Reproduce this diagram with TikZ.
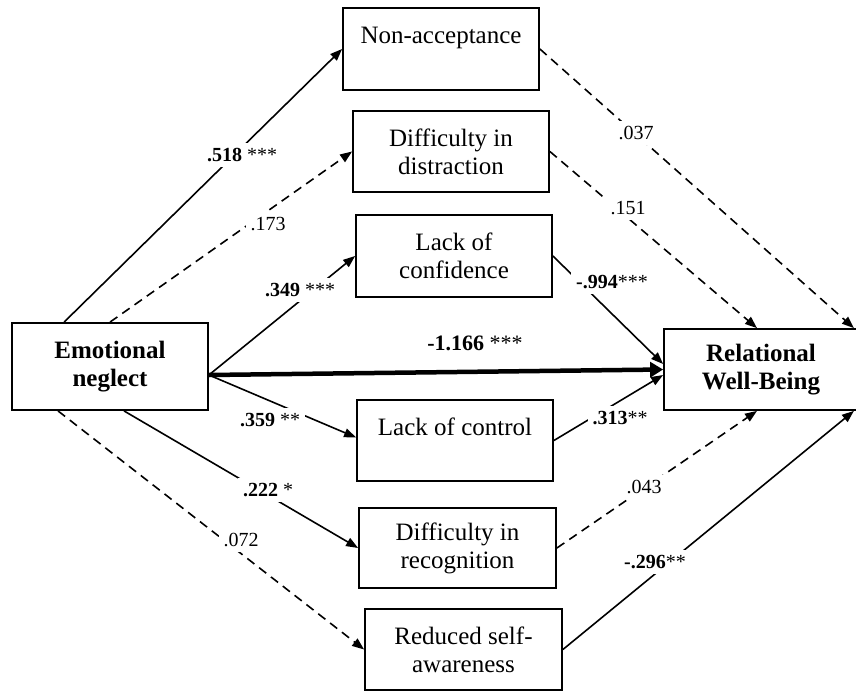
\documentclass[tikz,border=0pt]{standalone}
\usepackage{fontspec}
\setmainfont{Liberation Serif}
\usetikzlibrary{arrows.meta}
\begin{document}
\begin{tikzpicture}[x=1pt,y=-1pt,
  box/.style={draw, line width=1.8pt, minimum width=196pt, minimum height=81pt,
    align=center, inner sep=0pt, font=\fontsize{25}{28}\selectfont},
  bbox/.style={box, font=\fontsize{25}{28}\selectfont\bfseries},
  path/.style={line width=1.6pt, -{Triangle[length=12pt,width=9pt]}},
  npath/.style={path, dash pattern=on 9pt off 6pt},
  total/.style={line width=4.5pt, -{Triangle[length=13pt,width=15pt]}},
  lab/.style={fill=white, inner sep=5pt, font=\fontsize{20}{22}\selectfont},
  plain/.style={inner sep=1pt, font=\fontsize{22}{24}\selectfont}]
\useasboundingbox (0,0) rectangle (856,693);
\clip (0,0) rectangle (856,693);

% predictor and outcome
\node[bbox, minimum height=87pt] (EN) at (110,366.5) {Emotional\\neglect};
\node[bbox, minimum width=194pt] (RWB) at (761,369.5) {Relational\\Well-Being};

% mediators
\node[box, minimum height=82pt] (NA) at (441,49) {Non-acceptance\\\mbox{}};
\node[box] (DD) at (451,151.5) {Difficulty in\\distraction};
\node[box, minimum height=82pt] (LC) at (454,256) {Lack of\\confidence};
\node[box] (CT) at (455,440.5) {Lack of control\\\mbox{}};
\node[box, minimum height=80pt, minimum width=197pt] (DR) at (457.5,548) {Difficulty in\\recognition};
\node[box, minimum width=197pt] (RS) at (463.5,649.5) {Reduced self-\\awareness};

% a-paths
\draw[path]  ([xshift=53pt]EN.north west) -- (NA.west);
\draw[npath] (EN.north) -- (DD.west);
\draw[path]  ([yshift=-8.5pt]EN.east) -- (LC.west);
\draw[path]  ([yshift=-8.5pt]EN.east) -- ([yshift=3pt]CT.west);
\draw[path]  ([xshift=14pt]EN.south) -- (DR.west);
\draw[npath] ([xshift=-52pt]EN.south) -- (RS.west);

% direct effect
\draw[total] ([yshift=-8.5pt]EN.east) -- (RWB.west);

% b-paths
\draw[npath] (NA.east) -- ([xshift=-5pt]RWB.north east);
\draw[npath] (DD.east) -- ([xshift=-4pt]RWB.north);
\draw[path]  (LC.east) -- ([yshift=5.5pt]RWB.west);
\draw[path]  (CT.east) -- ([yshift=-5.5pt]RWB.west);
\draw[npath] (DR.east) -- ([xshift=-4pt]RWB.south);
\draw[path]  (RS.east) -- ([xshift=-5pt]RWB.south east);

% coefficients
\node[lab] (l1) at (242,155) {\textbf{.518} ***};
\node[lab] (l2) at (268,224) {.173};
\node[lab] (l3) at (300,290) {\textbf{.349} ***};
\node[plain] (l4) at (475,343) {\textbf{-1.166} ***};
\node[lab] (l5) at (270,420) {\textbf{.359} **};
\node[lab] (l6) at (268,490) {\textbf{.222} *};
\node[lab] (l7) at (241,540) {.072};
\node[lab] (l8) at (636,133) {.037};
\node[lab] (l9) at (628,208) {.151};
\node[lab] (l10) at (612,282) {\textbf{-.994}***};
\node[lab] (l11) at (620,418) {\textbf{.313}**};
\node[lab] (l12) at (644,487) {.043};
\node[lab] (l13) at (655,562) {\textbf{-.296}**};
\end{tikzpicture}
\end{document}
